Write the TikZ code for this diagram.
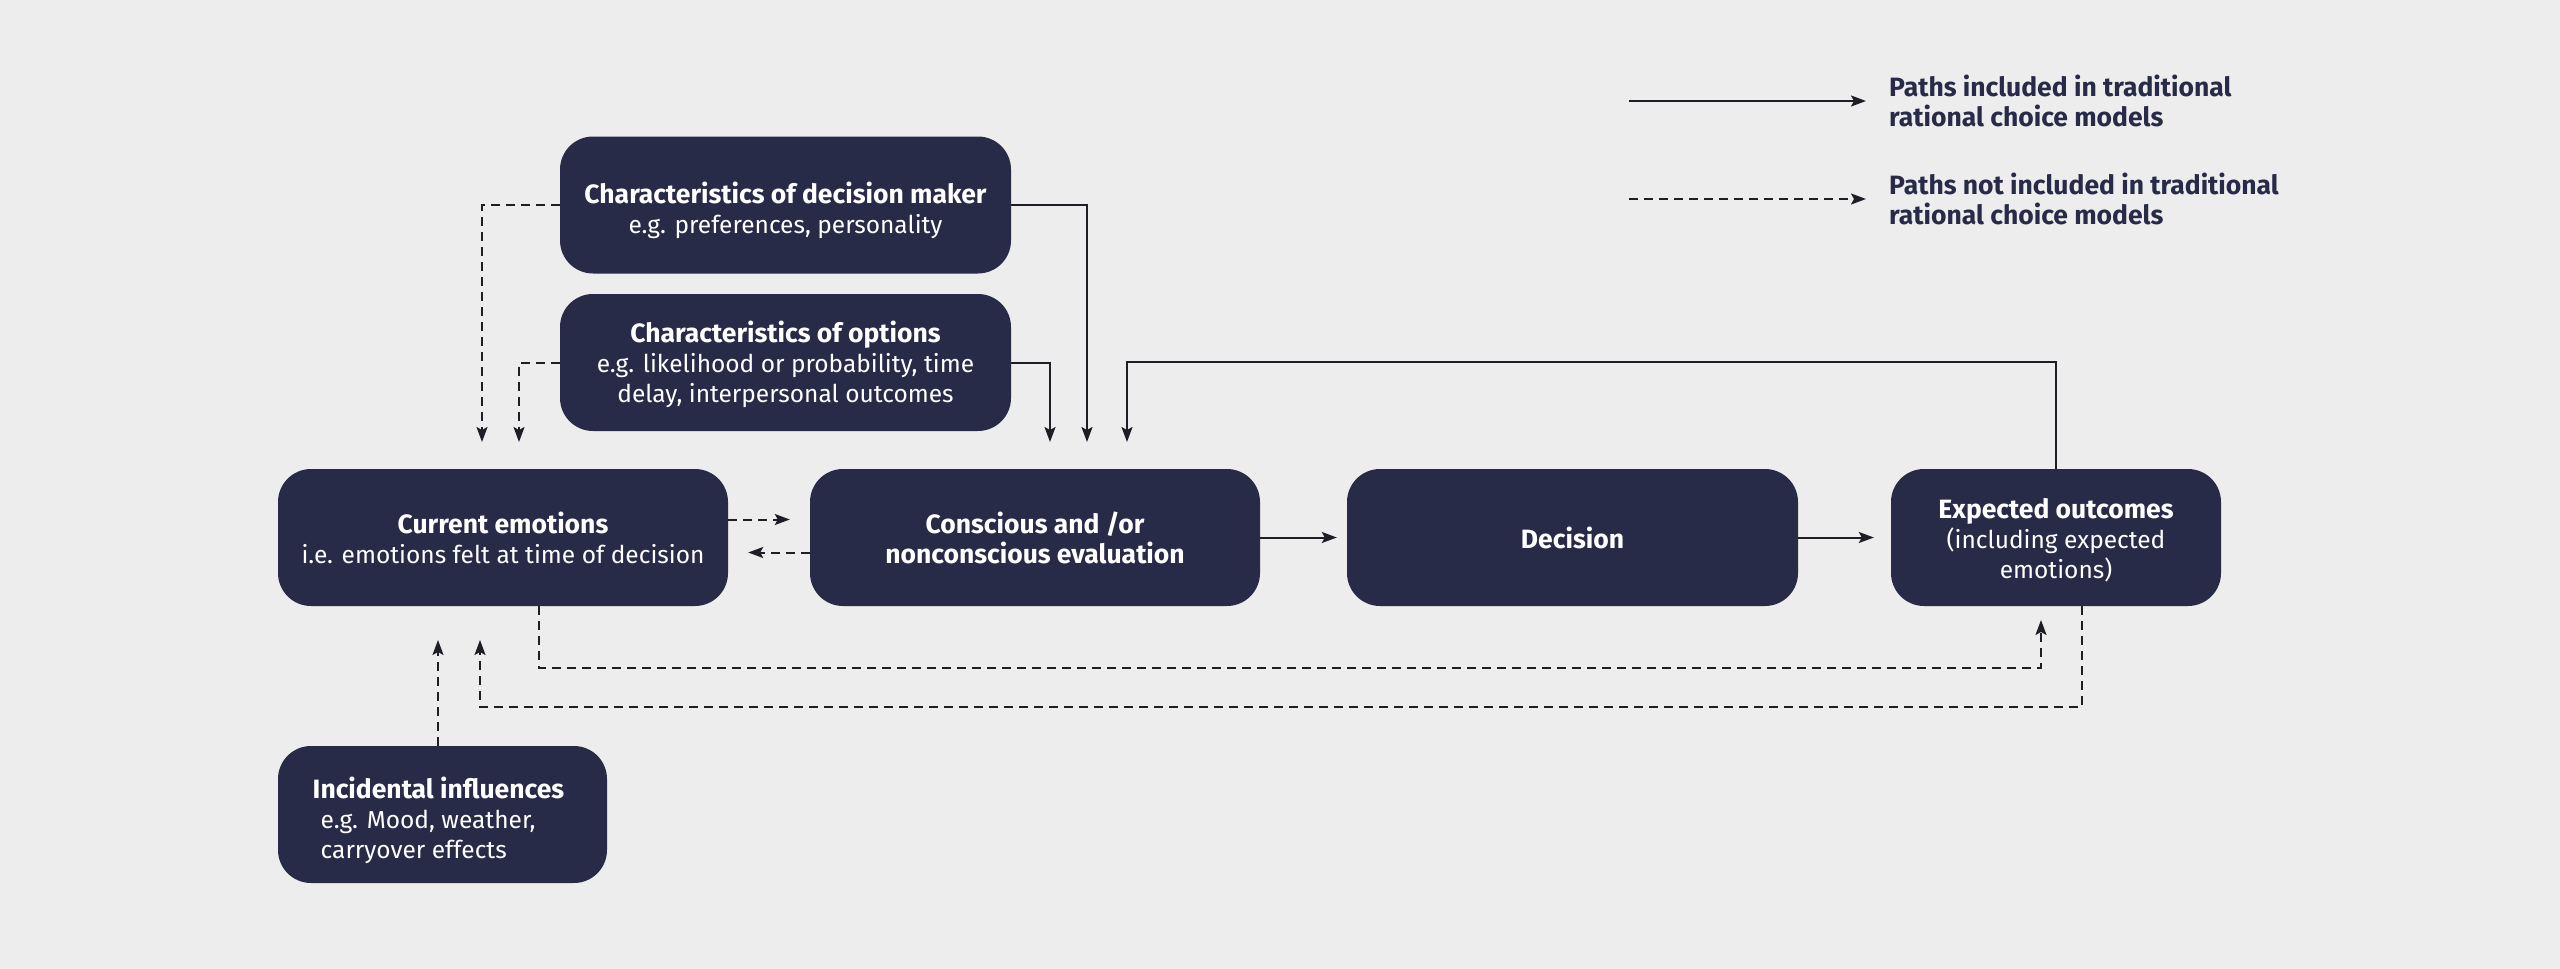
\documentclass[tikz,border=0pt]{standalone}
\usepackage{fontspec}
\setmainfont{Fira Sans}
\usetikzlibrary{arrows.meta}
\definecolor{bg}{HTML}{EDEDED}
\definecolor{navy}{HTML}{282B47}
\definecolor{ln}{HTML}{1E1F26}
\newcommand\hb[1]{{\fontsize{26.5}{30}\selectfont\bfseries #1}}
\newcommand\lift[1]{\rule{0pt}{#1}}
\begin{document}
\begin{tikzpicture}[x=1pt,y=-1pt,
  box/.style={fill=navy, rounded corners=33pt, text=white, align=center, inner sep=0pt,
    minimum height=137pt, font=\fontsize{24.5}{30}\selectfont},
  solidarr/.style={draw=ln, line width=2pt, -{Stealth[length=15pt,width=11pt,inset=3pt]}},
  dasharr/.style={solidarr, dash pattern=on 9pt off 6pt},
  legtext/.style={anchor=west, text=navy, align=left, inner sep=0pt, font=\bfseries\fontsize{26.5}{29.5}\selectfont}]
\fill[bg] (0,0) rectangle (2560,969);
\useasboundingbox (0,0) rectangle (2560,969);

% boxes
\node[box, minimum width=451pt] (dm) at (785.5,205) {\lift{32pt}\hb{Characteristics of decision maker}\\e.g. preferences, personality};
\node[box, minimum width=451pt] (opt) at (785.5,362.5) {\lift{24.5pt}\hb{Characteristics of options}\\e.g. likelihood or probability, time\\delay, interpersonal outcomes};
\node[box, minimum width=450pt] (ce) at (503,537.5) {\hb{Current emotions}\\i.e. emotions felt at time of decision};
\node[box, minimum width=450pt] (cons) at (1035,537.5) {\hb{Conscious and /or}\\\hb{nonconscious evaluation}};
\node[box, minimum width=451pt] (dec) at (1572.5,537.5) {\hb{Decision}};
\node[box, minimum width=330pt] (exp) at (2056,537.5) {\lift{26.5pt}\hb{Expected outcomes}\\(including expected\\emotions)};
\node[box, minimum width=329pt, align=left] (inc) at (442.5,814.5) {\hspace*{-8pt}\lift{33pt}\hb{Incidental influences}\\e.g. Mood, weather,\\carryover effects};

% coordinates
\coordinate (tdm) at (1087,442);
\coordinate (tdml) at (482,442);
\coordinate (topt) at (1050,442);
\coordinate (toptl) at (519,442);
\coordinate (cexp) at (1127,362);
\coordinate (texp) at (1127,442);
\coordinate (c1) at (2041,668);
\coordinate (t1) at (2041,620);
\coordinate (c2) at (480,707);
\coordinate (t2) at (480,640);
\coordinate (tinc) at (438,640);
\coordinate (ls1) at (1629,101);
\coordinate (le1) at (1866,101);
\coordinate (ls2) at (1629,199);
\coordinate (le2) at (1866,199);

% connectors
\draw[solidarr] (dm.east) -| (tdm);
\draw[dasharr] (dm.west) -| (tdml);
\draw[solidarr] (opt.east) -| (topt);
\draw[dasharr] (opt.west) -| (toptl);
\draw[solidarr] (exp.north) |- (cexp) -- (texp);
\draw[dasharr] ([yshift=18pt]ce.east) -- ([xshift=-20pt,yshift=18pt]cons.west);
\draw[dasharr] ([yshift=-15pt]cons.west) -- ([xshift=20pt,yshift=-15pt]ce.east);
\draw[solidarr] (cons.east) -- ([xshift=-10pt]dec.west);
\draw[solidarr] (dec.east) -- ([xshift=-17pt]exp.west);
\draw[dasharr] ([xshift=36pt]ce.south) |- (c1) -- (t1);
\draw[dasharr] ([xshift=26pt]exp.south) |- (c2) -- (t2);
\draw[dasharr] ([xshift=-4.5pt]inc.north) -- (tinc);

% legend
\draw[solidarr] (ls1) -- (le1);
\draw[dasharr] (ls2) -- (le2);
\node[legtext] (l1) at (1889,101) {Paths included in traditional\\rational choice models};
\node[legtext] (l2) at (1889,199) {Paths not included in traditional\\rational choice models};
\end{tikzpicture}
\end{document}
